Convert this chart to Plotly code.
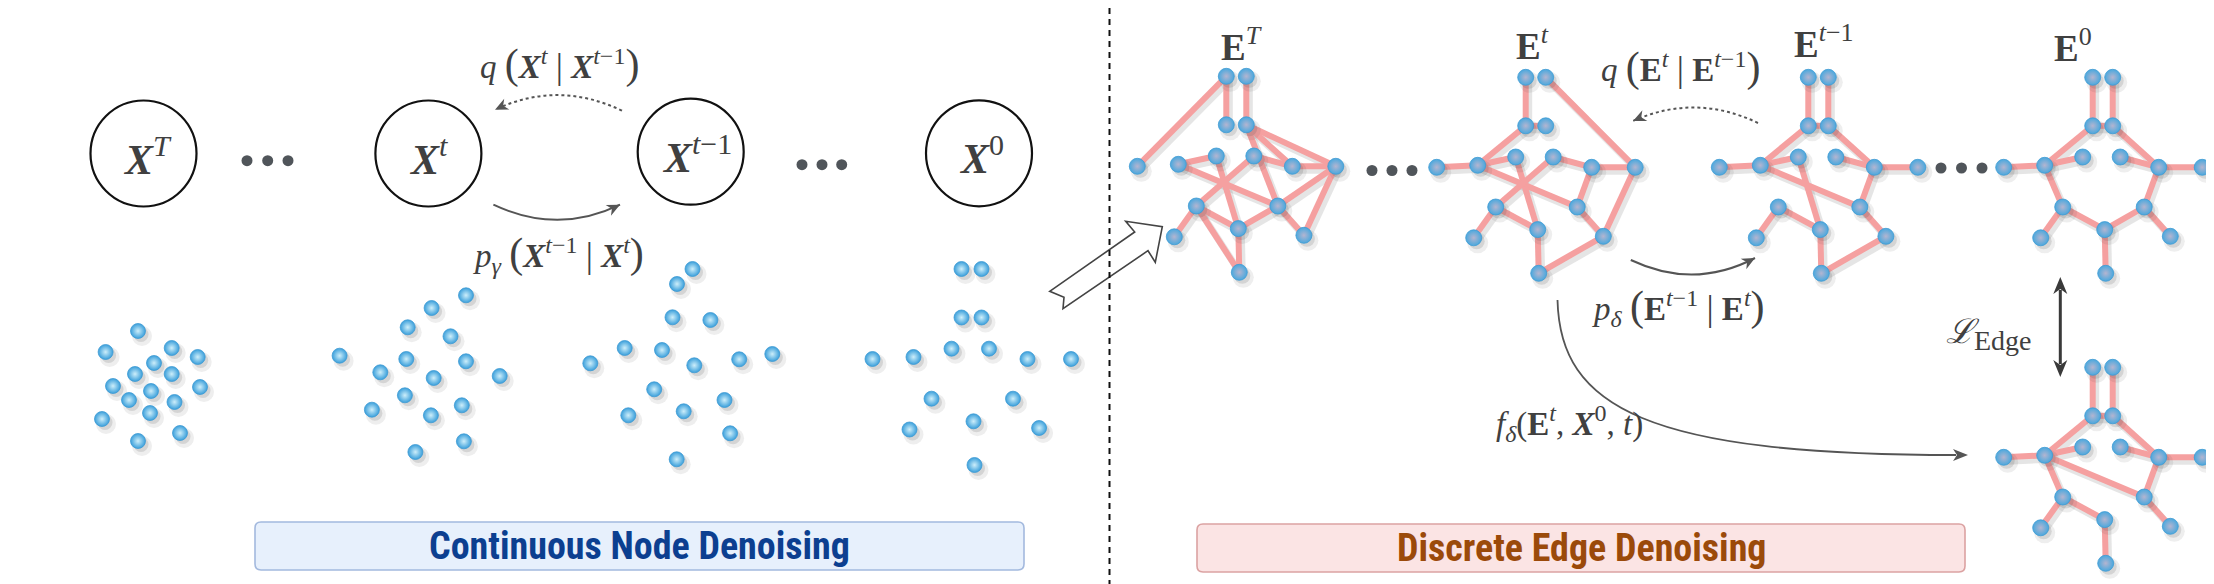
import math
import plotly.graph_objects as go

W, H = 2214, 584

# ---- continuous side: node point clouds (pixel coords) ----
cloud1_x = [130, 97.6, 163.7, 189.7, 146, 127, 163.7, 105, 192, 143, 121, 166.5, 94, 142, 172, 130]
cloud1_y = [323, 344, 340, 349, 355, 366, 366, 378, 379, 383, 392, 394, 411, 405, 425, 433]
cloud2_x = [458, 423.6, 399.7, 442.5, 331.6, 398.3, 458, 372.3, 425.7, 491.7, 396.9, 453.8, 363.9, 422.9, 455.9, 407.4]
cloud2_y = [287.3, 300, 319.3, 328.3, 347.7, 351, 353.3, 364.3, 370, 368, 387.3, 397.3, 401.7, 407.3, 433.3, 444]
cloud3_x = [669, 684.5, 664.5, 702.4, 616.7, 654, 582.3, 686.3, 731.2, 764.3, 646.2, 716.5, 675.7, 620.3, 722.1, 668.7]
cloud3_y = [276, 261, 309.3, 312, 340, 342, 355.3, 357.3, 351.3, 346, 381.3, 392, 403.3, 407.3, 425.3, 451.3]

# shared node layout of the graphs, relative to the top-left node
layout_dx = [0, 20, 0, 20, -89, -48, -10, 27.5, 66, 109.5, -30, 51.5, -52, 12, 77.6, 13]
layout_dy = [0, 0, 48.5, 48.5, 90, 88, 79.7, 79.7, 90, 90, 129.7, 129.7, 160.5, 152.3, 159, 196]

# X^0 cloud follows the same layout
cloud4_origin = (953.5, 261)

# graphs: E^T, E^t, E^{t-1}, E^0, predicted
graph_origin_x = [1218.3, 1517.7, 1800.3, 2084.7, 2084.7]
graph_origin_y = [68.3, 69.3, 69.3, 69.3, 359.3]
graph_edges = [
    [(0, 4), (0, 2), (1, 3), (3, 9), (3, 8), (3, 11), (5, 6), (5, 11), (6, 13), (7, 10), (7, 8),
     (8, 9), (9, 11), (9, 14), (11, 13), (11, 14), (10, 12), (10, 13), (10, 15), (13, 15)],
    [(0, 2), (2, 3), (1, 9), (2, 5), (4, 5), (5, 6), (5, 11), (6, 13), (7, 10), (7, 8), (8, 9),
     (8, 11), (11, 14), (9, 14), (10, 12), (10, 13), (13, 15), (15, 14)],
    [(0, 2), (1, 3), (2, 3), (2, 5), (3, 8), (4, 5), (5, 6), (5, 11), (6, 13), (7, 8), (8, 9),
     (8, 11), (11, 14), (10, 12), (10, 13), (13, 15), (15, 14)],
    [(0, 2), (1, 3), (2, 3), (2, 5), (3, 8), (4, 5), (5, 6), (5, 10), (7, 8), (8, 9), (8, 11),
     (10, 12), (10, 13), (13, 11), (11, 14), (13, 15)],
    [(0, 2), (1, 3), (2, 3), (2, 5), (3, 8), (4, 5), (5, 6), (5, 10), (5, 11), (7, 8), (8, 9),
     (8, 11), (11, 14), (10, 12), (10, 13), (13, 15)],
]

# circles X^T, X^t, X^{t-1}, X^0
circle_cx = [135.5, 420.4, 682.7, 971]
circle_cy = [145.5, 145.5, 143.7, 145.3]
circle_r = 53
circle_labels = ["T", "t", "t−1", "0"]
circle_label_x = [139, 420, 689, 973]

# ellipsis dots
dots_x = [239, 259.7, 280, 794, 814, 833.7, 1364, 1384, 1404, 1933, 1953.5, 1974]
dots_y = [152.7, 152.7, 152.7, 156.7, 156.7, 156.7, 162.5, 162.5, 162.5, 160, 160, 160]

TXT = "#404040"
SERIF = "Liberation Serif, Times New Roman, serif"

fig = go.Figure()


def graph_nodes(ox, oy, scale=1.0):
    return ([ox + d * scale for d in layout_dx], [oy + d * scale for d in layout_dy])


def add_nodes(xs, ys, size, rim, center):
    # soft drop shadow
    fig.add_trace(go.Scatter(x=[v + 4 for v in xs], y=[v + 5 for v in ys], mode="markers",
                             marker=dict(size=size + 5, color="rgba(70,70,70,0.09)", line=dict(width=0)),
                             hoverinfo="skip"))
    fig.add_trace(go.Scatter(x=[v + 3 for v in xs], y=[v + 3.5 for v in ys], mode="markers",
                             marker=dict(size=size, color="rgba(70,70,70,0.15)", line=dict(width=0)),
                             hoverinfo="skip"))
    fig.add_trace(go.Scatter(x=xs, y=ys, mode="markers",
                             marker=dict(size=size, color=rim,
                                         gradient=dict(type="radial", color=center),
                                         line=dict(width=0.8, color="#3f9ad3")),
                             hoverinfo="skip"))


# clouds
cx4, cy4 = graph_nodes(*cloud4_origin)
for xs, ys in [(cloud1_x, cloud1_y), (cloud2_x, cloud2_y), (cloud3_x, cloud3_y), (cx4, cy4)]:
    add_nodes(xs, ys, 15, "#3a9fdb", "#cdeefa")

# graphs
for gi in range(len(graph_edges)):
    gx, gy = graph_nodes(graph_origin_x[gi], graph_origin_y[gi])
    ex, ey, sx, sy = [], [], [], []
    for a, b in graph_edges[gi]:
        ex += [gx[a], gx[b], None]
        ey += [gy[a], gy[b], None]
        sx += [gx[a] + 3, gx[b] + 3, None]
        sy += [gy[a] + 4, gy[b] + 4, None]
    fig.add_trace(go.Scatter(x=sx, y=sy, mode="lines", line=dict(color="rgba(80,80,80,0.15)", width=7),
                             hoverinfo="skip"))
    fig.add_trace(go.Scatter(x=ex, y=ey, mode="lines", line=dict(color="#f5a0a0", width=6),
                             hoverinfo="skip"))
    add_nodes(gx, gy, 16, "#4aa8de", "#b4b5d0")

# ellipsis dots
fig.add_trace(go.Scatter(x=dots_x, y=dots_y, mode="markers",
                         marker=dict(size=11, color="#50555a", line=dict(width=0)), hoverinfo="skip"))

shapes = []


def arrow_head(tx, ty, dx, dy, length=13, half=6, notch=4, color="#555"):
    n = math.hypot(dx, dy)
    ux, uy = dx / n, dy / n
    px, py = -uy, ux
    bx, by = tx - ux * length, ty - uy * length
    nx, ny = tx - ux * (length - notch), ty - uy * (length - notch)
    path = (f"M {tx},{ty} L {bx + px * half},{by + py * half} L {nx},{ny} "
            f"L {bx - px * half},{by - py * half} Z")
    shapes.append(dict(type="path", path=path, fillcolor=color, line=dict(width=0), layer="above"))


def quad_arrow(p0, c, p1, dash="solid", color="#555", width=2):
    shapes.append(dict(type="path", path=f"M {p0[0]},{p0[1]} Q {c[0]},{c[1]} {p1[0]},{p1[1]}",
                       line=dict(color=color, width=width, dash=dash)))
    arrow_head(p1[0], p1[1], p1[0] - c[0], p1[1] - c[1], color=color)


# circles
for i in range(4):
    shapes.append(dict(type="circle", x0=circle_cx[i] - circle_r, x1=circle_cx[i] + circle_r,
                       y0=circle_cy[i] - circle_r, y1=circle_cy[i] + circle_r,
                       line=dict(color="#111", width=2.2)))

# transition arrows
quad_arrow((614, 102.7), (550, 72), (487, 101.7), dash="dot")
quad_arrow((485.4, 196.7), (550, 227), (612, 196.7))
quad_arrow((1750, 115), (1687, 85), (1625, 113), dash="dot")
quad_arrow((1622.8, 252), (1686, 282), (1747, 250))

# f_delta long arrow
shapes.append(dict(type="path", path="M 1549.5,292 C 1552,400 1640,447 1948,447",
                   line=dict(color="#555", width=1.8)))
arrow_head(1960, 447, 1, 0, length=15, half=6, notch=4, color="#555")

# L_Edge double arrow
shapes.append(dict(type="line", x0=2052.3, x1=2052.3, y0=282, y1=356, line=dict(color="#3a3a3a", width=3)))
arrow_head(2052.3, 269, 0, -1, length=17, half=7, notch=5, color="#3a3a3a")
arrow_head(2052.3, 369, 0, 1, length=17, half=7, notch=5, color="#3a3a3a")

# hollow block arrow between the halves
blk_x = [1041.7, 1126.7, 1117.7, 1154.3, 1147.3, 1140, 1055, 1056]
blk_y = [283.3, 224, 213.3, 218.7, 254.3, 242.7, 300.7, 289.3]
shapes.append(dict(type="path",
                   path="M " + " L ".join(f"{x},{y}" for x, y in zip(blk_x, blk_y)) + " Z",
                   fillcolor="white", line=dict(color="#444", width=1.6)))

# dashed separator
shapes.append(dict(type="line", x0=1101.5, x1=1101.5, y0=0, y1=H,
                   line=dict(color="#111", width=2, dash="6px,5px")))


def rounded_box(x0, y0, x1, y1, r, fill, border):
    p = (f"M {x0 + r},{y0} L {x1 - r},{y0} Q {x1},{y0} {x1},{y0 + r} L {x1},{y1 - r} "
         f"Q {x1},{y1} {x1 - r},{y1} L {x0 + r},{y1} Q {x0},{y1} {x0},{y1 - r} L {x0},{y0 + r} "
         f"Q {x0},{y0} {x0 + r},{y0} Z")
    shapes.append(dict(type="path", path=p, fillcolor=fill, line=dict(color=border, width=1.6)))


rounded_box(247, 514, 1016, 562, 6, "#e7f0fc", "#a3b9de")
rounded_box(1189, 516, 1957, 564, 6, "#fbe4e4", "#dba2a2")

fig.update_layout(shapes=shapes)

ann = []


def label(x, y, text, size, family=SERIF, color=TXT):
    ann.append(dict(x=x, y=y, xref="x", yref="y", text=text, showarrow=False,
                    font=dict(family=family, size=size, color=color), xanchor="center", yanchor="middle"))


def sz(s, px):
    return f"<span style='font-size:{px}px'>{s}</span>"


def sup(s, px):
    return f"<sup>{sz(s, px)}</sup>"


def sub(s, px):
    return f"<sub>{sz(s, px)}</sub>"


BX = "<b><i>X</i></b>"
BE = "<b>E</b>"
T = "<i>t</i>"
T1 = "<i>t</i>−1"

for i in range(4):
    lab = circle_labels[i].replace("t", "<i>t</i>").replace("T", "<i>T</i>")
    label(circle_label_x[i], circle_cy[i] + 2, f"{BX}{sup(lab, 30)}", 42)

MS = 33   # math label size
SS = 24   # its sup/sub size
label(551, 56, f"<i>q</i> {sz('(', 42)}{BX}{sup(T, SS)} {sz('|', 36)} {BX}{sup(T1, SS)}{sz(')', 42)}", MS)
label(550, 246, f"<i>p</i>{sub('<i>γ</i>', SS)} {sz('(', 42)}{BX}{sup(T1, SS)} {sz('|', 36)} {BX}{sup(T, SS)}{sz(')', 42)}", MS)

label(1233, 36, f"{BE}{sup('<i>T</i>', 26)}", 37)
label(1524, 35, f"{BE}{sup(T, 26)}", 37)
label(1816, 33, f"{BE}{sup(T1, 26)}", 37)
label(2065, 37, f"{BE}{sup('0', 26)}", 37)

label(1672, 59, f"<i>q</i> {sz('(', 42)}{BE}{sup(T, SS)} {sz('|', 36)} {BE}{sup(T1, SS)}{sz(')', 42)}", MS)
label(1670, 299, f"<i>p</i>{sub('<i>δ</i>', SS)} {sz('(', 42)}{BE}{sup(T1, SS)} {sz('|', 36)} {BE}{sup(T, SS)}{sz(')', 42)}", MS)
label(1561, 415, f"<i>f</i>{sub('<i>δ</i>', SS)}({BE}{sup(T, SS)}, {BX}{sup('0', SS)}, <i>t</i>)", MS)
label(1981, 326, f"<i>ℒ</i>{sub('Edge', 28)}", 34)

SANS_N = "Liberation Sans Narrow, Arial Narrow, Roboto Condensed, Liberation Sans, sans-serif"
label(631.5, 538, "<b>Continuous Node Denoising</b>", 38, family=SANS_N, color="#0c3f90")
label(1573, 540, "<b>Discrete Edge Denoising</b>", 38, family=SANS_N, color="#9b4a0a")

fig.update_layout(annotations=ann)

fig.update_layout(
    width=W, height=H, margin=dict(l=0, r=0, t=0, b=0),
    paper_bgcolor="white", plot_bgcolor="white", showlegend=False,
    xaxis=dict(range=[0, W], visible=False, fixedrange=True),
    yaxis=dict(range=[H, 0], visible=False, fixedrange=True),
)

fig.write_html("out.html")
